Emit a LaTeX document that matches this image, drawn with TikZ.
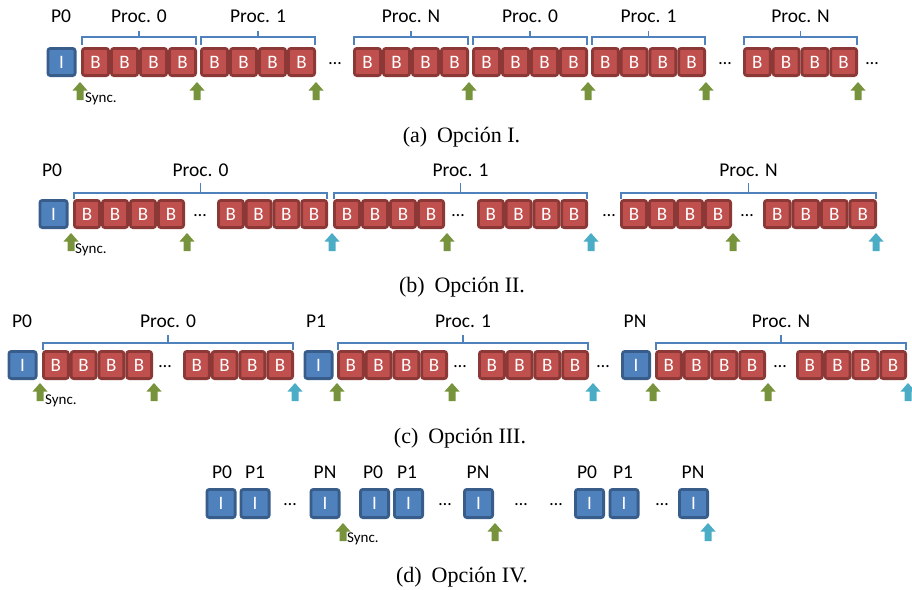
\documentclass[tikz,border=0pt]{standalone}
\usepackage{fontspec}
\setmainfont{Liberation Serif}
\newfontfamily\calib{Carlito}
\usetikzlibrary{calc}
\definecolor{ifill}{HTML}{4F81BD}
\definecolor{idraw}{HTML}{385D8A}
\definecolor{bfill}{HTML}{C0504D}
\definecolor{bdraw}{HTML}{8C3836}
\definecolor{agreen}{HTML}{77933C}
\definecolor{ablue}{HTML}{4BACC6}
\definecolor{brkcol}{HTML}{4F81BD}
\tikzset{
  cell/.style={line width=2.8pt, rounded corners=2.5pt, inner sep=0pt, text=white,
    font=\calib\fontsize{19}{19}\selectfont, minimum height=27.2pt, minimum width=27.2pt},
  bcell/.style={cell, draw=bdraw, fill=bfill},
  icell/.style={cell, draw=idraw, fill=ifill},
  dcell/.style={icell, minimum height=28.2pt, minimum width=28.2pt},
  lbl/.style={font=\calib\fontsize{19.5}{19.5}\selectfont, anchor=base, inner sep=0pt},
  synclbl/.style={font=\calib\fontsize{15}{15}\selectfont, anchor=base west, inner sep=0pt},
  dotslbl/.style={font=\calib\fontsize{18}{18}\selectfont, anchor=base, inner sep=0pt},
  caplbl/.style={font=\fontsize{22}{22}\selectfont, anchor=base, inner sep=0pt},
  brace/.style={draw=brkcol, line width=1.3pt},
}
% group of four B cells: name, left, right, top
\newcommand\BGrp[4]{%
  \pgfmathsetmacro\bw{(#3-#2)/4}%
  \foreach \k in {0,1,2,3}{%
    \pgfmathsetmacro\cx{#2+(\k+0.5)*\bw}%
    \node[bcell, minimum width={\bw-2.8}] (#1\k) at (\cx,#4+15) {B};
  }}
% bracket: name, left, right, yend, yh, ytick, text, baseline
\newcommand\Brk[8]{%
  \pgfmathsetmacro\mx{(#2+#3)/2}%
  \draw[brace] (#2,#4) -- (#2,#5) -- (#3,#5) -- (#3,#4);
  \draw[brace] (\mx,#5) -- (\mx,#6);
  \node[lbl] (#1) at (\mx,#8) {#7};}
% up arrow: colour, x, ytop
\newcommand\UpArr[3]{%
  \fill[#1] (#2,#3) -- ++(7.5,8.5) -- ++(-4,0) -- ++(0,9.5) -- ++(-7,0) -- ++(0,-9.5) -- ++(-4,0) -- cycle;}
\begin{document}
\begin{tikzpicture}[x=1pt,y=-1pt]
\useasboundingbox (0,0) rectangle (912,589);
% ---------------- (a)
\node[icell] (aI) at (61.5,62) {I};
\node[lbl] (aP0) at (61,23) {P0};
\BGrp{aA}{81}{197}{47}
\BGrp{aB}{200}{316}{47}
\BGrp{aC}{353}{469}{47}
\BGrp{aD}{472}{588}{47}
\BGrp{aE}{591}{706}{47}
\BGrp{aF}{743}{858}{47}
\Brk{aLA}{82}{196}{45}{37}{31}{Proc. 0}{23}
\Brk{aLB}{201}{315}{45}{37}{31}{Proc. 1}{23}
\Brk{aLC}{354}{468}{45}{37}{31}{Proc. N}{23}
\Brk{aLD}{473}{587}{45}{37}{31}{Proc. 0}{23}
\Brk{aLE}{592}{705}{45}{37}{31}{Proc. 1}{23}
\Brk{aLF}{744}{857}{45}{37}{31}{Proc. N}{23}
\node[dotslbl] (aD1) at (335,64) {…};
\node[dotslbl] (aD2) at (725,64) {…};
\node[dotslbl] (aD3) at (872,64) {…};
\UpArr{agreen}{80}{82}
\UpArr{agreen}{197}{82}
\UpArr{agreen}{316}{82}
\UpArr{agreen}{469}{82}
\UpArr{agreen}{588}{82}
\UpArr{agreen}{706}{82}
\UpArr{agreen}{858}{82}
\node[synclbl] (aS) at (85,102) {Sync.};
\node[caplbl] (capa) at (461.5,142) {(a)\hspace{0.45em}Opción I.};
% ---------------- (b)
\node[icell] (bI) at (53.5,214) {I};
\node[lbl] (bP0) at (52,176) {P0};
\BGrp{bA}{73}{185}{199}
\BGrp{bB}{217}{328}{199}
\BGrp{bC}{333}{445}{199}
\BGrp{bD}{477}{588}{199}
\BGrp{bE}{620}{732}{199}
\BGrp{bF}{763}{877}{199}
\Brk{bL0}{74}{327}{199}{193}{183}{Proc. 0}{176}
\Brk{bL1}{334}{587}{199}{193}{183}{Proc. 1}{176}
\Brk{bLN}{621}{876}{199}{193}{183}{Proc. N}{176}
\node[dotslbl] (bD1) at (200,216) {…};
\node[dotslbl] (bD2) at (458,216) {…};
\node[dotslbl] (bD3) at (609,216) {…};
\node[dotslbl] (bD4) at (747,216) {…};
\UpArr{agreen}{71}{233}
\UpArr{agreen}{187}{233}
\UpArr{ablue}{332}{233}
\UpArr{agreen}{447}{233}
\UpArr{ablue}{591}{233}
\UpArr{agreen}{733}{233}
\UpArr{ablue}{876}{233}
\node[synclbl] (bS) at (75,253) {Sync.};
\node[caplbl] (capb) at (462,292) {(b)\hspace{0.45em}Opción II.};
% ---------------- (c)
\node[icell] (cI0) at (22.5,365) {I};
\node[icell] (cI1) at (318.5,365) {I};
\node[icell] (cIN) at (636,365) {I};
\node[lbl] (cP0) at (22,327) {P0};
\node[lbl] (cP1) at (316,327) {P1};
\node[lbl] (cPN) at (635,327) {PN};
\BGrp{cA}{42}{153}{350}
\BGrp{cB}{183}{294}{350}
\BGrp{cC}{337}{448}{350}
\BGrp{cD}{478}{589}{350}
\BGrp{cE}{655}{766}{350}
\BGrp{cF}{796}{907}{350}
\Brk{cL0}{43}{293}{350}{343}{335}{Proc. 0}{327}
\Brk{cL1}{338}{588}{350}{343}{335}{Proc. 1}{327}
\Brk{cLN}{656}{906}{350}{343}{335}{Proc. N}{327}
\node[dotslbl] (cD1) at (165,367) {…};
\node[dotslbl] (cD2) at (460,367) {…};
\node[dotslbl] (cD3) at (603,367) {…};
\node[dotslbl] (cD4) at (780,367) {…};
\UpArr{agreen}{40}{383}
\UpArr{agreen}{154}{383}
\UpArr{ablue}{295}{383}
\UpArr{agreen}{337}{383}
\UpArr{agreen}{452}{383}
\UpArr{ablue}{593}{383}
\UpArr{agreen}{653}{383}
\UpArr{agreen}{768}{383}
\UpArr{ablue}{908}{383}
\node[synclbl] (cS) at (45,404) {Sync.};
\node[caplbl] (capc) at (460,443) {(c)\hspace{0.45em}Opción III.};
% ---------------- (d)
\foreach \nm/\cx/\lx/\tx in {d1/221/222/P0, d2/255/255/P1, d3/325/325/PN,
    d4/374.5/373/P0, d5/408.5/407/P1, d6/478.5/478/PN,
    d7/589.5/587/P0, d8/624/623/P1, d9/693.5/693/PN}{
  \node[dcell] (\nm) at (\cx,503.5) {I};
  \node[lbl] (\nm l) at (\lx,478) {\tx};
}
\node[dotslbl] (dD1) at (290,505) {…};
\node[dotslbl] (dD2) at (445,505) {…};
\node[dotslbl] (dD3) at (521,505) {…};
\node[dotslbl] (dD4) at (556,505) {…};
\node[dotslbl] (dD5) at (662,505) {…};
\UpArr{agreen}{343}{523}
\UpArr{agreen}{495}{523}
\UpArr{ablue}{708}{523}
\node[synclbl] (dS) at (347,542) {Sync.};
\node[caplbl] (capd) at (462,582) {(d)\hspace{0.45em}Opción IV.};
\end{tikzpicture}
\end{document}
